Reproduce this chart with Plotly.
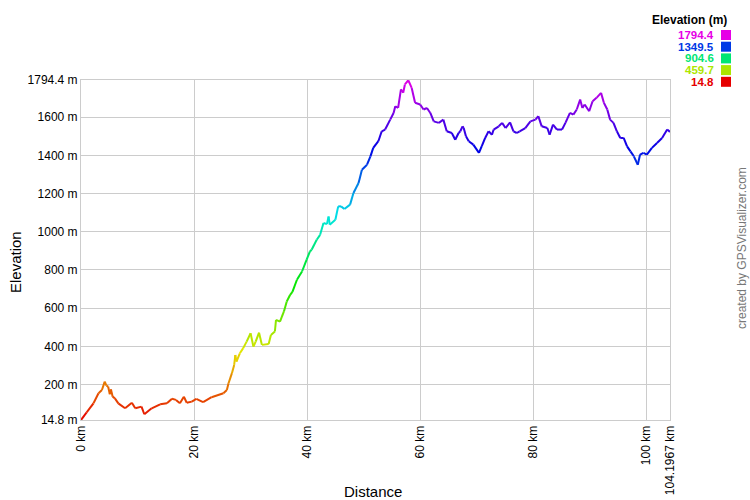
import colorsys
import plotly.graph_objects as go

# ---- data ----
dist_km = [0, 1.0, 2.2, 3.1, 3.7, 4.2, 4.5, 4.8, 5.1, 5.3, 5.6, 6.0, 6.6, 7.8, 9.0, 9.6,
           10.7, 11.2, 12.5, 14.0, 15.2, 16.1, 16.8, 17.5, 18.2, 18.7, 19.6, 20.4, 21.6,
           23.1, 25.2, 25.8, 26.1, 26.7, 27.1, 27.3, 27.5, 28.1, 28.7, 29.3, 30.0, 30.5,
           30.9, 31.5, 32.0, 33.2, 33.6, 34.3, 34.5, 35.2, 35.9, 36.4, 37.0, 37.4, 38.2,
           39.1, 39.9, 40.5, 40.8, 41.7, 42.3, 42.9, 43.5, 43.8, 44.0, 45.0, 45.5, 46.0,
           46.6, 47.6, 48.2, 49.1, 49.7, 50.6, 51.2, 51.7, 52.6, 53.2, 53.8, 54.7, 55.3,
           55.6, 56.1, 56.6, 57.0, 57.3, 57.9, 58.5, 59.1, 60.0, 60.6, 61.2, 61.8, 62.4,
           63.3, 64.1, 64.7, 65.6, 66.2, 66.8, 67.1, 67.5, 67.7, 68.1, 68.6, 69.4, 70.4,
           70.9, 71.5, 72.1, 72.7, 73.0, 73.9, 74.5, 75.1, 75.9, 76.5, 77.1, 77.6, 78.6,
           79.5, 80.4, 80.9, 81.5, 82.5, 82.9, 83.5, 84.2, 85.1, 85.7, 86.5, 87.1, 87.7,
           88.3, 88.7, 89.1, 89.9, 90.5, 91.2, 92.0, 92.5, 93.1, 93.6, 94.2, 94.8, 95.4,
           96.0, 96.6, 97.2, 97.8, 98.5, 98.9, 99.5, 100.1, 101.0, 101.9, 102.8, 103.7,
           104.1967]
elev_m = [14.8, 55, 102, 155, 172, 216, 195, 190, 150, 175, 137, 128, 102, 76, 105, 76,
          85, 45, 76, 97, 102, 126, 120, 102, 137, 105, 111, 125, 108,
          134, 155, 172, 207, 260, 303, 355, 320, 364, 391, 425, 469, 399,
          425, 472, 408, 413, 460, 478, 539, 530, 583, 635, 670, 685, 749,
          792, 853, 897, 906, 958, 984, 1046, 1040, 1080, 1037, 1063, 1133, 1133,
          1119, 1142, 1203, 1255, 1325, 1351, 1395, 1439, 1474, 1526, 1535, 1587, 1622,
          1657, 1648, 1745, 1728, 1771, 1793, 1753, 1675, 1666, 1640, 1648, 1622, 1578,
          1570, 1587, 1526, 1517, 1482, 1517, 1526, 1552, 1543, 1500, 1474, 1456, 1413,
          1448, 1491, 1526, 1508, 1535, 1552, 1570, 1543, 1573, 1526, 1517, 1526, 1543,
          1578, 1587, 1605, 1552, 1543, 1508, 1561, 1535, 1535, 1570, 1622, 1613, 1640,
          1692, 1648, 1666, 1631, 1683, 1701, 1727, 1675, 1640, 1587, 1570, 1526, 1491,
          1491, 1447, 1421, 1395, 1351, 1404, 1413, 1404, 1439, 1465, 1491, 1535,
          1523]

y_tickvals = [14.8, 200, 400, 600, 800, 1000, 1200, 1400, 1600, 1794.4]
y_ticktext = ["14.8 m", "200 m", "400 m", "600 m", "800 m", "1000 m", "1200 m",
              "1400 m", "1600 m", "1794.4 m"]
x_tickvals = [0, 20, 40, 60, 80, 100, 104.1967]
x_ticktext = ["0 km", "20 km", "40 km", "60 km", "80 km", "100 km", "104.1967 km"]

legend_vals = ["1794.4", "1349.5", "904.6", "459.7", "14.8"]

EMIN, EMAX = 14.8, 1794.4

W, H = 750, 500
L, T = 81, 80
R, B = W - 670, H - 420
PW, PH = W - L - R, H - T - B


def px_x(x):  # page pixel -> paper x
    return (x - L) / PW


def px_y(y):  # page pixel -> paper y
    return (H - y - B) / PH


def elev_color(e, v=0.9):
    frac = (e - EMIN) / (EMAX - EMIN)
    frac = min(max(frac, 0), 1)
    r, g, b = colorsys.hsv_to_rgb(frac * 300 / 360.0, 1.0, v)
    return "rgb(%d,%d,%d)" % (round(r * 255), round(g * 255), round(b * 255))


fig = go.Figure()
for i in range(len(dist_km) - 1):
    mid = (elev_m[i] + elev_m[i + 1]) / 2
    fig.add_trace(go.Scatter(
        x=[dist_km[i], dist_km[i + 1]], y=[elev_m[i], elev_m[i + 1]],
        mode="lines", line=dict(color=elev_color(mid), width=2),
        showlegend=False, hoverinfo="skip"))

font = "Liberation Sans, Arial, sans-serif"
fig.update_layout(
    width=W, height=H,
    margin=dict(l=L, r=R, t=T, b=B, autoexpand=False),
    paper_bgcolor="white", plot_bgcolor="white",
    font=dict(family=font, size=12, color="black"),
    xaxis=dict(range=[0, 104.1967], tickvals=x_tickvals, ticktext=x_ticktext,
               tickangle=-90, showgrid=True, gridcolor="#cccccc", gridwidth=1,
               zeroline=False, showline=True, linecolor="#cccccc", mirror=True,
               ticks="", tickfont=dict(size=12), automargin=False),
    yaxis=dict(range=[14.8, 1794.4], tickvals=y_tickvals, ticktext=y_ticktext,
               showgrid=True, gridcolor="#cccccc", gridwidth=1,
               zeroline=False, showline=True, linecolor="#cccccc", mirror=True,
               ticks="", tickfont=dict(size=12), automargin=False),
)

# axis titles
fig.add_annotation(xref="paper", yref="paper", x=px_x(373), y=px_y(492),
                   text="Distance", showarrow=False, xanchor="center", yanchor="middle",
                   font=dict(size=15, color="black"))
fig.add_annotation(xref="paper", yref="paper", x=px_x(15), y=px_y(262),
                   text="Elevation", showarrow=False, xanchor="center", yanchor="middle",
                   textangle=-90, font=dict(size=15, color="black"))

# legend block
fig.add_annotation(xref="paper", yref="paper", x=px_x(729), y=px_y(20),
                   text="<b>Elevation (m)</b>", showarrow=False, xanchor="right",
                   yanchor="middle", font=dict(size=12, color="black"))
for k, val in enumerate(legend_vals):
    ypix = 35 + k * 11.7
    col = elev_color(float(val), v=0.9)
    fig.add_annotation(xref="paper", yref="paper", x=px_x(716),
                       y=px_y(ypix), text="<b>%s</b>" % val,
                       showarrow=False, xanchor="right", yanchor="middle",
                       font=dict(size=11.5, color=col))
    fig.add_shape(type="rect", xref="paper", yref="paper",
                  x0=px_x(721), x1=px_x(731),
                  y0=px_y(ypix + 5), y1=px_y(ypix - 5),
                  fillcolor=col, line=dict(width=0))

fig.add_annotation(xref="paper", yref="paper", x=px_x(742), y=px_y(248),
                   text="created by GPSVisualizer.com", textangle=-90, showarrow=False,
                   xanchor="center", yanchor="middle", font=dict(size=12, color="#777777"))

fig.write_html("out.html",
               config={"displayModeBar": False},
               post_script="document.body.style.margin='0';"
                           "document.body.style.overflow='hidden';")
